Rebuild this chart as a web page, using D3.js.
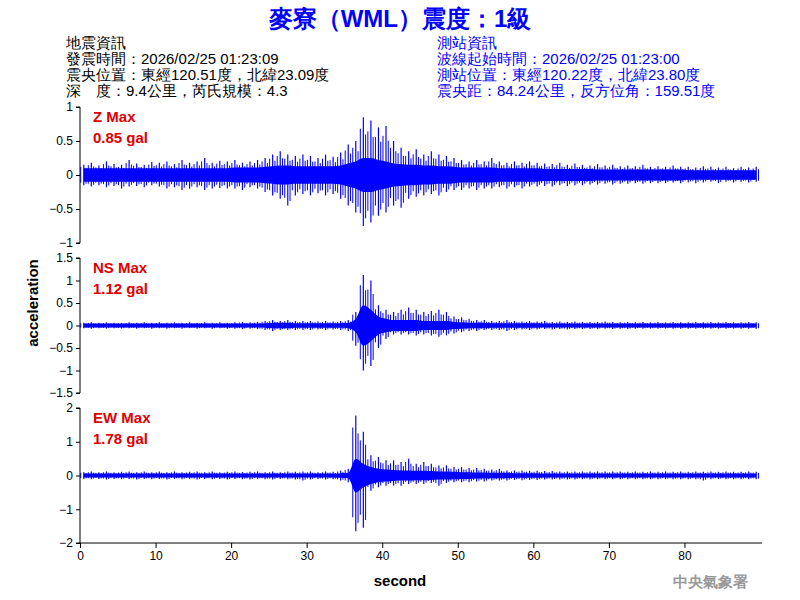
<!DOCTYPE html>
<html><head><meta charset="utf-8">
<script src="https://cdn.jsdelivr.net/npm/d3@7"></script>
<style>body{margin:0;background:#fff}text{font-family:Arial,"Liberation Sans",sans-serif}</style>
</head><body><svg id="c" width="800" height="600"></svg>
<script>
const seconds = d3.range(0, 90);
const zHi = [.15,.18,.14,.2,.16,.15,.22,.17,.15,.19, .18,.2,.16,.22,.18,.2,.25,.18,.21,.2, .22,.18,.2,.22,.25,.3,.35,.3,.28,.3, .28,.25,.3,.27,.33,.45,.5,.85,.8,.7, .72,.5,.4,.35,.38,.3,.35,.3,.28,.25, .22,.2,.22,.2,.25,.2,.18,.2,.18,.2, .18,.17,.16,.18,.15,.17,.15,.14,.16,.14, .15,.13,.14,.13,.15,.12,.13,.12,.14,.12, .12,.11,.13,.12,.11,.12,.1,.12,.11,.12];
const zLo = [-.15,-.17,-.15,-.18,-.16,-.2,-.17,-.16,-.18,-.15, -.17,-.2,-.18,-.22,-.2,-.18,-.22,-.2,-.19,-.2, -.2,-.22,-.18,-.2,-.25,-.3,-.35,-.45,-.3,-.28, -.3,-.27,-.3,-.28,-.35,-.45,-.55,-.75,-.7,-.6, -.55,-.45,-.48,-.35,-.32,-.3,-.28,-.3,-.25,-.22, -.22,-.2,-.22,-.2,-.2,-.18,-.2,-.18,-.2,-.17, -.17,-.16,-.17,-.15,-.16,-.15,-.15,-.14,-.14,-.13, -.14,-.13,-.13,-.12,-.13,-.12,-.12,-.12,-.11,-.12, -.11,-.12,-.11,-.1,-.12,-.1,-.11,-.1,-.11,-.1];
const zBand = [.1,.1,.1,.1,.1,.1,.1,.1,.1,.1, .1,.1,.1,.1,.1,.1,.1,.1,.1,.1, .11,.11,.11,.11,.12,.13,.14,.14,.13,.13, .13,.13,.13,.13,.14,.17,.2,.25,.25,.22, .2,.17,.16,.15,.15,.14,.14,.13,.13,.12, .11,.11,.11,.11,.11,.1,.1,.1,.1,.1, .1,.09,.09,.09,.09,.09,.09,.09,.08,.08, .08,.08,.08,.08,.08,.08,.08,.08,.08,.08, .07,.07,.07,.07,.07,.07,.07,.07,.07,.07];
const nsHi = [.06,.07,.06,.07,.06,.06,.07,.06,.07,.06, .07,.06,.07,.06,.07,.06,.07,.06,.07,.06, .07,.08,.07,.08,.1,.12,.1,.12,.1,.1, .1,.09,.1,.09,.1,.12,.3,1.12,1.0,.45, .35,.3,.35,.4,.35,.3,.32,.35,.3,.2, .18,.15,.12,.12,.1,.1,.12,.1,.09,.1, .09,.1,.08,.09,.08,.09,.08,.08,.08,.09, .08,.07,.08,.07,.08,.07,.08,.07,.08,.07, .07,.08,.07,.08,.07,.08,.07,.07,.08,.07];
const nsLo = [-.06,-.07,-.06,-.07,-.06,-.07,-.06,-.07,-.06,-.07, -.06,-.07,-.06,-.07,-.06,-.07,-.06,-.07,-.06,-.07, -.07,-.08,-.07,-.08,-.1,-.12,-.1,-.1,-.1,-.1, -.1,-.09,-.1,-.09,-.1,-.12,-.45,-1.0,-.9,-.5, -.3,-.2,-.2,-.2,-.22,-.2,-.22,-.25,-.22,-.18, -.15,-.12,-.12,-.1,-.1,-.1,-.12,-.1,-.09,-.1, -.09,-.08,-.09,-.08,-.09,-.08,-.08,-.08,-.08,-.07, -.08,-.07,-.08,-.07,-.07,-.07,-.07,-.07,-.07,-.07, -.07,-.07,-.07,-.07,-.07,-.07,-.07,-.07,-.07,-.07];
const nsBand = [.045,.045,.045,.045,.045,.045,.045,.045,.045,.045, .045,.045,.045,.045,.045,.045,.045,.045,.045,.045, .045,.045,.045,.045,.05,.06,.06,.06,.05,.05, .05,.05,.05,.05,.05,.06,.15,.45,.35,.2, .15,.12,.12,.12,.12,.1,.1,.1,.1,.08, .07,.06,.06,.06,.05,.05,.05,.05,.05,.05, .05,.045,.045,.045,.045,.045,.045,.045,.045,.045, .045,.045,.045,.045,.045,.045,.045,.045,.045,.045, .045,.045,.045,.045,.045,.045,.045,.045,.045,.045];
const ewHi = [.1,.12,.1,.12,.1,.11,.12,.1,.12,.1, .12,.1,.12,.1,.11,.12,.1,.12,.1,.11, .12,.1,.11,.12,.1,.12,.1,.12,.11,.12, .12,.1,.12,.11,.15,.2,1.78,1.3,.6,.55, .45,.45,.4,.5,.35,.4,.35,.3,.3,.25, .25,.22,.22,.2,.18,.2,.15,.15,.15,.14, .14,.13,.13,.12,.12,.12,.12,.12,.12,.12, .12,.12,.11,.12,.11,.12,.11,.12,.11,.12, .11,.12,.11,.12,.11,.12,.11,.11,.12,.11];
const ewLo = [-.1,-.11,-.1,-.12,-.1,-.11,-.1,-.12,-.1,-.11, -.1,-.12,-.1,-.11,-.1,-.12,-.1,-.11,-.1,-.12, -.1,-.11,-.12,-.1,-.11,-.12,-.1,-.11,-.12,-.15, -.12,-.1,-.12,-.11,-.15,-.2,-1.65,-1.55,-.45,-.35, -.3,-.3,-.3,-.25,-.25,-.25,-.22,-.3,-.22,-.2, -.2,-.2,-.18,-.18,-.15,-.15,-.15,-.13,-.14,-.13, -.13,-.12,-.12,-.12,-.12,-.12,-.11,-.12,-.11,-.11, -.11,-.11,-.11,-.11,-.11,-.11,-.11,-.11,-.11,-.11, -.11,-.11,-.15,-.11,-.11,-.11,-.11,-.11,-.11,-.11];
const ewBand = [.06,.06,.06,.06,.06,.06,.06,.06,.06,.06, .06,.06,.06,.06,.06,.06,.06,.06,.06,.06, .06,.06,.06,.06,.06,.06,.06,.06,.06,.06, .06,.06,.06,.06,.07,.08,.5,.35,.25,.2, .18,.16,.15,.15,.14,.14,.13,.12,.12,.11, .1,.1,.09,.09,.08,.08,.08,.07,.07,.07, .07,.06,.06,.06,.06,.06,.06,.06,.06,.06, .06,.06,.06,.06,.06,.06,.06,.06,.06,.06, .06,.06,.06,.06,.06,.06,.06,.06,.06,.06];
const panels = [
 {name:"Z Max", max:"0.85 gal", hi:zHi, lo:zLo, band:zBand, dom:[-1,1], ticks:[-1,-0.5,0,0.5,1], top:107, bot:243},
 {name:"NS Max", max:"1.12 gal", hi:nsHi, lo:nsLo, band:nsBand, dom:[-1.5,1.5], ticks:[-1.5,-1,-0.5,0,0.5,1,1.5], top:258, bot:393},
 {name:"EW Max", max:"1.78 gal", hi:ewHi, lo:ewLo, band:ewBand, dom:[-2,2], ticks:[-2,-1,0,1,2], top:408, bot:543}
];
const xTicks = [0,10,20,30,40,50,60,70,80];
const svg = d3.select("#c");
const x = d3.scaleLinear().domain([0,90]).range([80,760]);
const blue = "#0000ff";
const cjk = "'Noto Sans CJK TC',sans-serif";
panels.forEach((p,i)=>{
  const y = d3.scaleLinear().domain(p.dom).range([p.bot,p.top]);
  svg.append("path").datum(seconds).attr("fill",blue)
    .attr("d", d3.area().x(d=>x(d+0.5)).y0(d=>y(-p.band[d])).y1(d=>y(p.band[d])).curve(d3.curveMonotoneX));
  svg.append("g").selectAll("line").data(seconds).join("line")
    .attr("x1",d=>x(d+0.5)).attr("x2",d=>x(d+0.5))
    .attr("y1",d=>y(p.lo[d])).attr("y2",d=>y(p.hi[d]))
    .attr("stroke",blue).attr("stroke-width",1.2);
  svg.append("g").selectAll("line").data(seconds).join("line")
    .attr("x1",d=>x(d+0.1)).attr("x2",d=>x(d+0.1))
    .attr("y1",d=>y(p.lo[d]*0.75)).attr("y2",d=>y(p.hi[d]*0.8))
    .attr("stroke",blue).attr("stroke-width",1);
  svg.append("g").selectAll("line").data(seconds).join("line")
    .attr("x1",d=>x(d+0.8)).attr("x2",d=>x(d+0.8))
    .attr("y1",d=>y(p.lo[d]*0.85)).attr("y2",d=>y(p.hi[d]*0.7))
    .attr("stroke",blue).attr("stroke-width",1);
  const ax = svg.append("g").attr("transform","translate(80,0)")
    .call(d3.axisLeft(y).tickValues(p.ticks).tickSize(4).tickFormat(d3.format("~g")));
  ax.selectAll("text").attr("font-size",12).attr("fill","#000");
  ax.select(".domain").attr("d",`M-4,${p.top}H0V${p.bot}H-4`);
  svg.append("text").attr("x",93).attr("y",p.top+15).attr("fill","#e00000").attr("font-size",15).attr("font-weight","bold").text(p.name);
  svg.append("text").attr("x",93).attr("y",p.top+36).attr("fill","#e00000").attr("font-size",15).attr("font-weight","bold").text(p.max);
});
const xa = svg.append("g").attr("transform","translate(0,543)").call(d3.axisBottom(x).tickValues(xTicks).tickSize(5));
xa.selectAll("text").attr("font-size",12).attr("fill","#000");
xa.select(".domain").attr("d","M80,0H762");
svg.append("text").attr("x",400).attr("y",27).attr("text-anchor","middle").attr("fill",blue)
  .attr("font-size",24).attr("font-weight","bold").attr("font-family",cjk).text("麥寮（WML）震度：1級");
const left = ["地震資訊","發震時間：2026/02/25 01:23:09","震央位置：東經120.51度，北緯23.09度","深　度：9.4公里，芮氏規模：4.3"];
const right = ["測站資訊","波線起始時間：2026/02/25 01:23:00","測站位置：東經120.22度，北緯23.80度","震央距：84.24公里，反方位角：159.51度"];
left.forEach((t,i)=>svg.append("text").attr("x",66).attr("y",48+i*16).attr("font-size",15).attr("font-family",cjk).text(t));
right.forEach((t,i)=>svg.append("text").attr("x",437).attr("y",48+i*16).attr("font-size",15).attr("fill",blue).attr("font-family",cjk).text(t));
svg.append("text").attr("transform","translate(38,303) rotate(-90)").attr("text-anchor","middle").attr("font-size",15).attr("font-weight","bold").text("acceleration");
svg.append("text").attr("x",400).attr("y",586).attr("text-anchor","middle").attr("font-size",15).attr("font-weight","bold").text("second");
svg.append("text").attr("x",748).attr("y",587).attr("text-anchor","end").attr("font-size",15).attr("font-weight","bold").attr("fill","#999").attr("font-family",cjk).text("中央氣象署");
</script></body></html>
